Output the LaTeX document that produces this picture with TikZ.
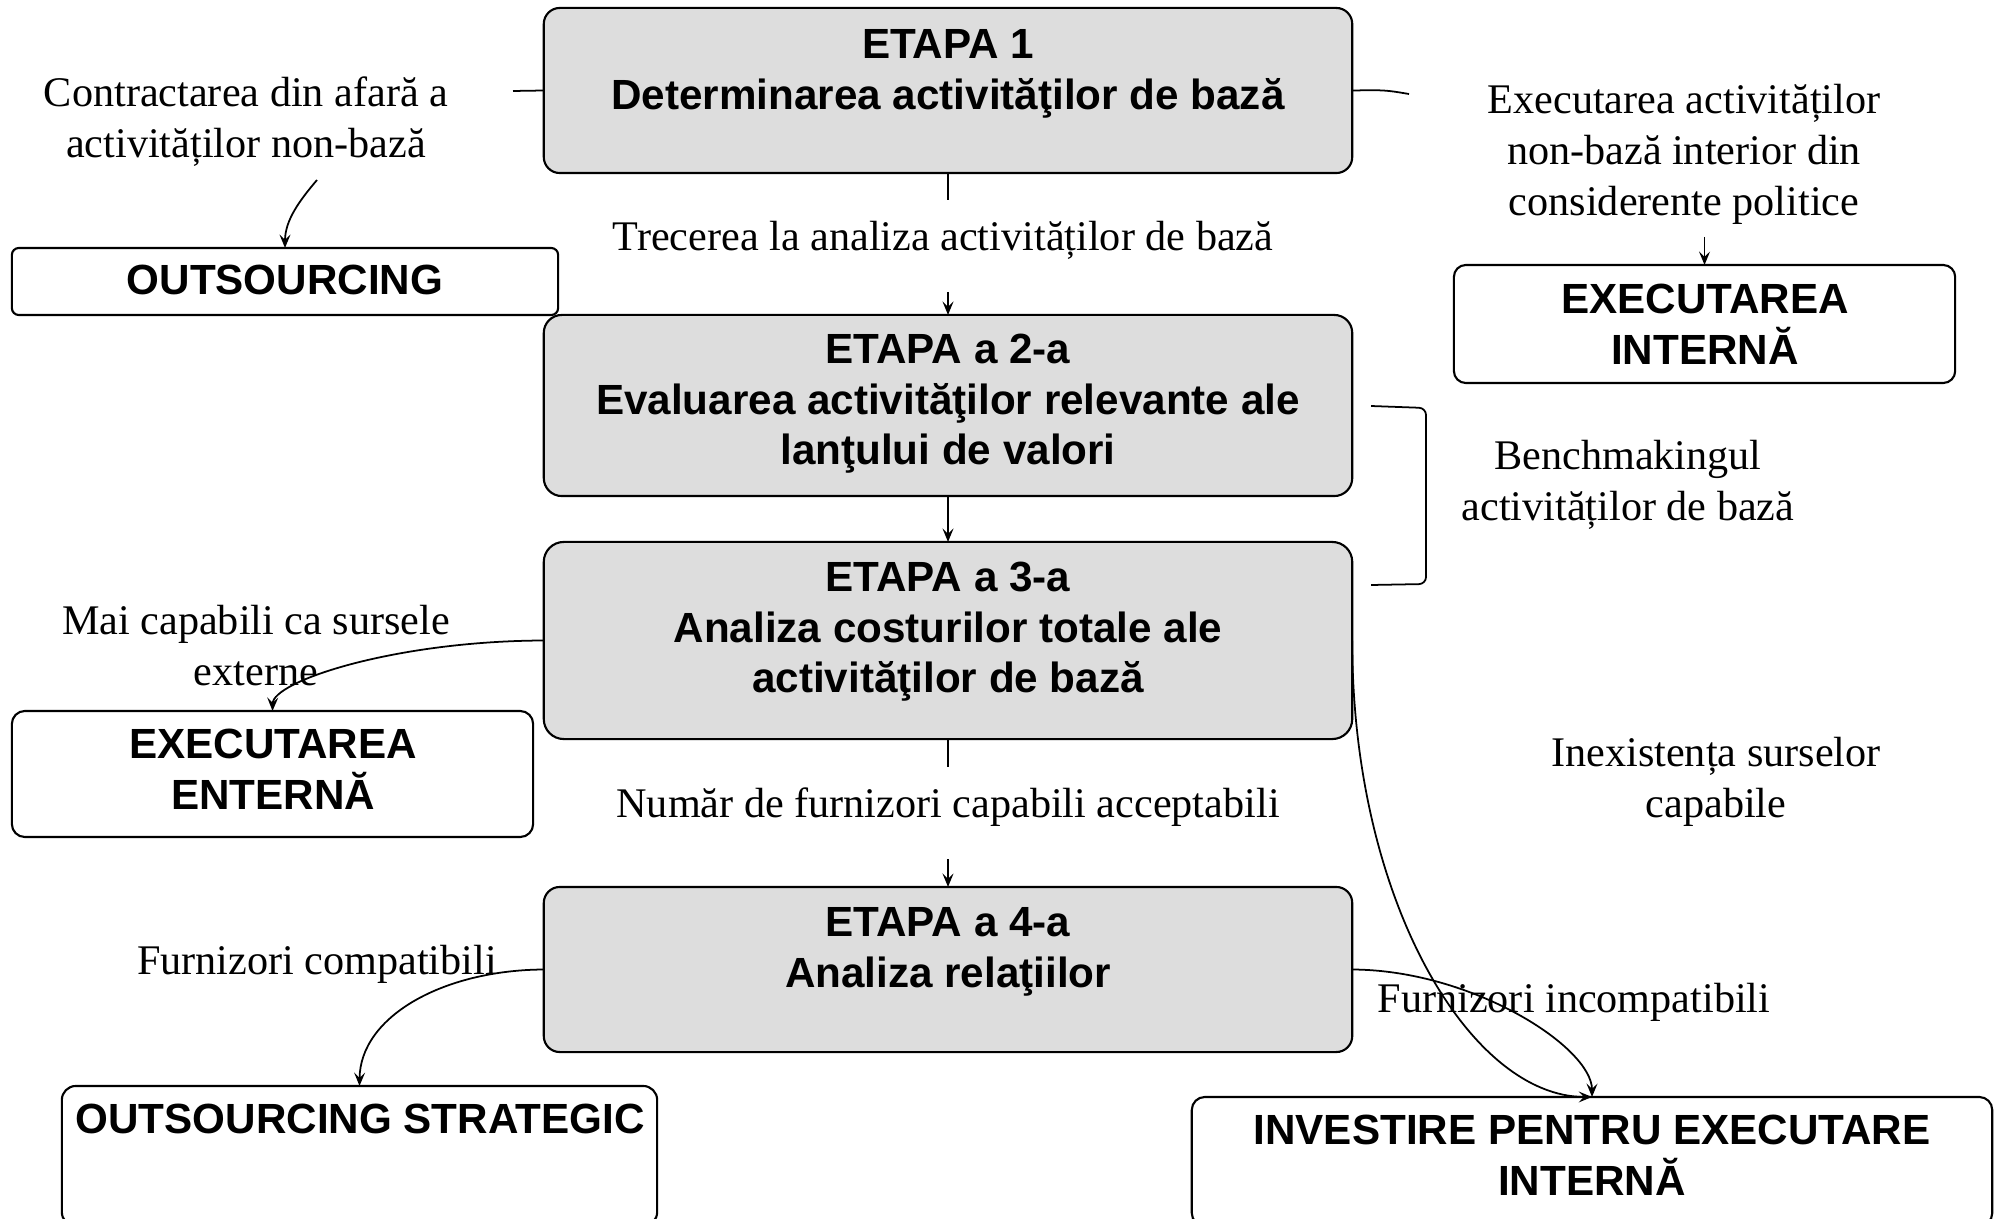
\documentclass[tikz,border=0pt]{standalone}
\usepackage{fontspec}
\setmainfont{Liberation Serif}
\setsansfont{Liberation Sans}
\usetikzlibrary{arrows.meta}
\definecolor{stagefill}{RGB}{221,221,221}
% fixed-height strut so every text block hangs from its first baseline
\newcommand{\firstln}{\rule{0pt}{12pt}}
\begin{document}
\begin{tikzpicture}[x=0.01cm, y=-0.01cm,
  stage/.style={draw=black, line width=0.6pt, fill=stagefill, inner sep=0pt, outer sep=0pt, minimum width=80.8mm},
  result/.style={draw=black, line width=0.6pt, fill=white, inner sep=0pt, outer sep=0pt},
  boxtxt/.style={font=\sffamily\bfseries\fontsize{12}{14.4}\selectfont, align=center, anchor=north, inner sep=0pt},
  note/.style={font=\fontsize{12}{14.4}\selectfont, align=center, anchor=north, inner sep=0pt},
  link/.style={line width=0.5pt},
  arr/.style={link, -{Stealth[length=3.8pt, width=3.1pt, inset=1.5pt]}}]
\useasboundingbox (0,0) rectangle (1995,1219);

% stages
\node[stage, rounded corners=1.6mm, minimum height=16.5mm] (e1) at (948,90.5) {};
\node[stage, rounded corners=1.8mm, minimum height=18.1mm] (e2) at (948,405.5) {};
\node[stage, rounded corners=2mm, minimum height=19.7mm] (e3) at (948,640.5) {};
\node[stage, rounded corners=1.6mm, minimum height=16.5mm] (e4) at (948,969.5) {};

% outcomes
\node[result, rounded corners=0.7mm, minimum width=54.6mm, minimum height=6.7mm] (out1) at (285,281.5) {};
\node[result, rounded corners=1.2mm, minimum width=50.1mm, minimum height=11.8mm] (einter) at (1704.5,324) {};
\node[result, rounded corners=1.3mm, minimum width=52.1mm, minimum height=12.6mm] (eext) at (272.5,774) {};
\node[result, rounded corners=1.4mm, minimum width=59.5mm, minimum height=14mm] (outstr) at (359.5,1156) {};
\node[result, rounded corners=1.3mm, minimum width=80mm, minimum height=12.9mm] (inv) at (1592,1161.5) {};

% box texts
\node[boxtxt] (e1t) at (948,15.5) {\firstln ETAPA 1\\Determinarea activităţilor de bază};
\node[boxtxt] (e2t) at (948,320.5) {\firstln ETAPA a 2-a\\Evaluarea activităţilor relevante ale\\lanţului de valori};
\node[boxtxt] (e3t) at (948,548.5) {\firstln ETAPA a 3-a\\Analiza costurilor totale ale\\activităţilor de bază};
\node[boxtxt] (e4t) at (948,893.5) {\firstln ETAPA a 4-a\\Analiza relaţiilor};
\node[boxtxt] (out1t) at (285,251.5) {\firstln OUTSOURCING};
\node[boxtxt] (eintert) at (1705,270.5) {\firstln EXECUTAREA\\INTERNĂ};
\node[boxtxt] (eextt) at (273,715.5) {\firstln EXECUTAREA\\ENTERNĂ};
\node[boxtxt] (outstrt) at (360,1090.5) {\firstln OUTSOURCING STRATEGIC};
\node[boxtxt] (invt) at (1592,1101.5) {\firstln INVESTIRE PENTRU EXECUTARE\\INTERNĂ};

% connector labels
\node[note] (lab1) at (246,64) {\firstln Contractarea din afară a\\activităților non-bază};
\node[note] (lab2) at (1684,71) {\firstln Executarea activităților\\non-bază interior din\\considerente politice};
\node[note] (lab3) at (943,208) {\firstln Trecerea la analiza activităților de bază};
\node[note] (lab4) at (1628,427) {\firstln Benchmakingul\\activităților de bază};
\node[note] (lab5) at (256,592) {\firstln Mai capabili ca sursele\\externe};
\node[note] (lab6) at (948,775) {\firstln Număr de furnizori capabili acceptabili};
\node[note] (lab7) at (1716,724) {\firstln Inexistența surselor\\capabile};
\node[note] (lab8) at (317,932) {\firstln Furnizori compatibili};
\node[note] (lab9) at (1574,970) {\firstln Furnizori incompatibili};

% stage 1 to outsourcing (broken by its label)
\coordinate (s1) at (513,91);
\draw[link] (e1.west) -- (s1);
\coordinate (s2) at (317,180);
\draw[arr] (s2) .. controls (300,200) and (285,220) .. (out1.north);

% stage 1 to internal execution
\coordinate (s3) at (1409,94);
\draw[link] (e1.east) .. controls (1385,90) .. (s3);
\coordinate (s4) at (1704.5,237);
\draw[arr] (s4) -- (einter.north);

% main chain
\coordinate (s5) at (948,200);
\draw[link] (e1.south) -- (s5);
\coordinate (s6) at (948,292);
\draw[arr] (s6) -- (e2.north);
\draw[arr] (e2.south) -- (e3.north);
\coordinate (s7) at (948,767);
\draw[link] (e3.south) -- (s7);
\coordinate (s8) at (948,859);
\draw[arr] (s8) -- (e4.north);

% bracket grouping stages 2 and 3
\coordinate (b1) at (1371,406);
\coordinate (b2) at (1426,408);
\coordinate (b3) at (1426,584);
\coordinate (b4) at (1371,585);
\draw[link, rounded corners=2pt] (b1) -- (b2) -- (b3) -- (b4);

% branches
\draw[arr] (e3.west) .. controls (395,641) and (273,681) .. (eext.north);
\draw[arr] (e4.west) .. controls (444,970) and (360,1016) .. (outstr.north);
\draw[arr] (e3.east) .. controls (1352,900) and (1470,1097) .. (inv.north);
\draw[arr] (e4.east) .. controls (1472,970) and (1592,1047) .. (inv.north);
\end{tikzpicture}
\end{document}
